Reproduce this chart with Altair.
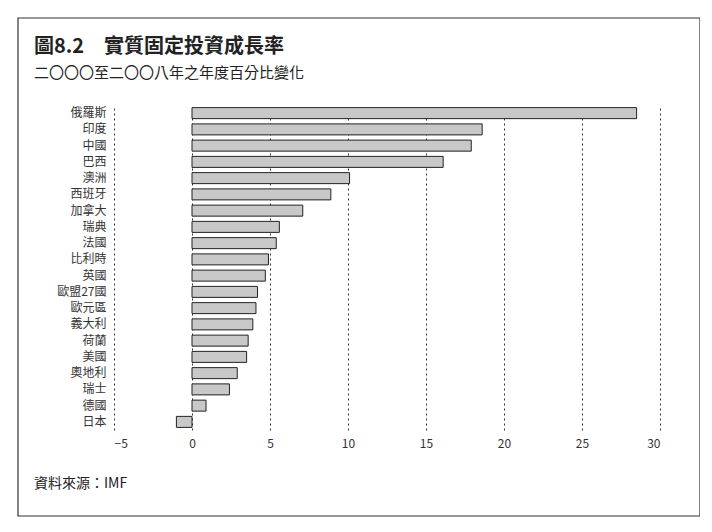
import altair as alt
import pandas as pd

countries = ["俄羅斯","印度","中國","巴西","澳洲","西班牙","加拿大","瑞典","法國","比利時",
             "英國","歐盟27國","歐元區","義大利","荷蘭","美國","奧地利","瑞士","德國","日本"]
values = [28.5,18.6,17.9,16.1,10.1,8.9,7.1,5.6,5.4,4.9,4.7,4.2,4.1,3.9,3.6,3.5,2.9,2.4,0.9,-1.0]
ticks = [-5,0,5,10,15,20,25,30]

df = pd.DataFrame({"country": countries, "value": values})
W, H = 546, 325
F = "Noto Sans CJK TC"

bars = alt.Chart(df).mark_bar(color="#c8c8c8", stroke="#222", strokeWidth=1, size=11).encode(
    x=alt.X("value:Q", scale=alt.Scale(domain=[-5, 30], nice=False),
            axis=alt.Axis(values=ticks, title=None, grid=True, gridDash=[2, 3], gridColor="#333",
                          domain=False, ticks=False, labelFont=F, labelFontSize=12, labelColor="#333",
                          labelPadding=8)),
    y=alt.Y("country:N", sort=countries,
            axis=alt.Axis(title=None, domain=False, ticks=False, labelFont=F, labelFontSize=12,
                          labelColor="#333", labelPadding=8)),
)

def txt(s, x, y, size, weight="normal"):
    return alt.Chart(pd.DataFrame({"t": [s]})).mark_text(
        align="left", baseline="alphabetic", font=F, fontSize=size, fontWeight=weight, color="#222"
    ).encode(text="t:N", x=alt.value(x), y=alt.value(y))

frame = alt.Chart(pd.DataFrame({"a": [0]})).mark_rect(fill=None, stroke="#333", strokeWidth=1.2).encode(
    x=alt.value(-96), x2=alt.value(586), y=alt.value(-87), y2=alt.value(411))

chart = alt.layer(
    frame, bars,
    txt("圖8.2　實質固定投資成長率", -80, -52, 20, "bold"),
    txt("二〇〇〇至二〇〇八年之年度百分比變化", -80, -27, 15),
    txt("資料來源：IMF", -80, 383, 14),
).properties(width=W, height=H, padding={"left": 106, "top": 97, "right": 40, "bottom": 95},
             autosize=alt.AutoSizeParams(type="none")).configure_view(stroke=None)

chart.save("out.html", embed_options={"renderer": "svg", "actions": False})
